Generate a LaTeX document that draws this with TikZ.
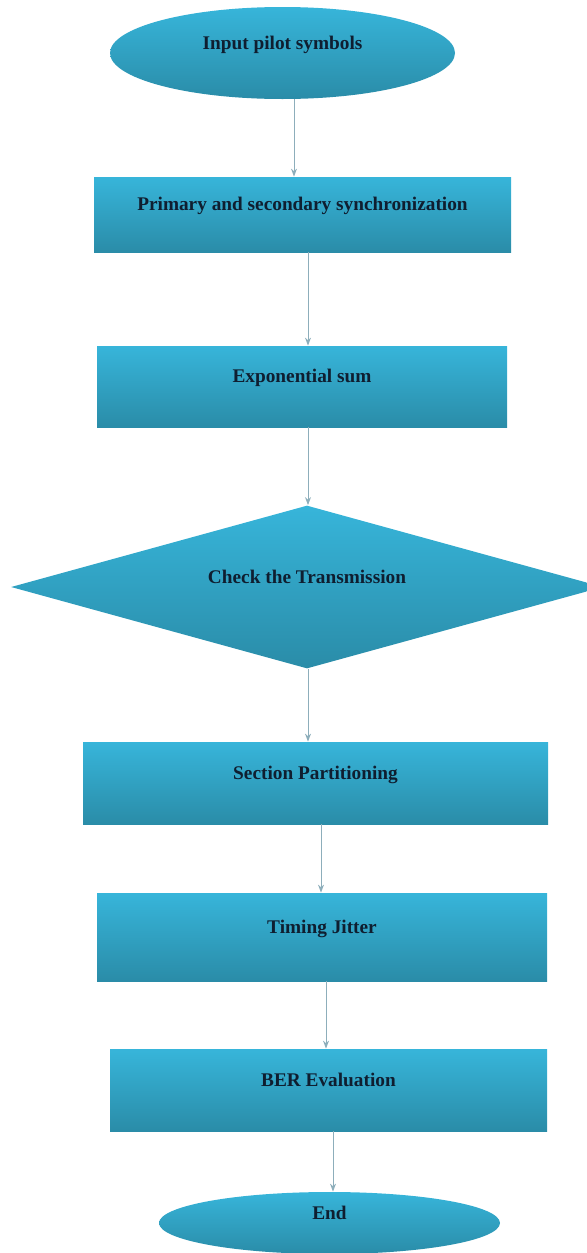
\documentclass[tikz,border=0pt]{standalone}
\usepackage{fontspec}
\setmainfont{Liberation Serif}
\usetikzlibrary{shapes.geometric,arrows.meta}
\definecolor{boxtop}{HTML}{37B5DA}
\definecolor{boxbottom}{HTML}{2A8CA8}
\definecolor{inktext}{HTML}{0F1E30}
\definecolor{linkgray}{HTML}{8DAEBB}
\begin{document}
\begin{tikzpicture}[x=0.5pt,y=-0.5pt,
  fillbox/.style={top color=boxtop,bottom color=boxbottom,draw=none,inner sep=0pt,text=inktext,
    font=\fontsize{9.65}{11}\selectfont\bfseries,text height=7pt,text depth=11pt},
  procbox/.style={fillbox,rectangle},
  termbox/.style={fillbox,ellipse},
  testbox/.style={fillbox,diamond,aspect=3.6},
  link/.style={draw=linkgray,line width=0.5pt,-{Stealth[length=4pt,width=3pt]}}]
\useasboundingbox (0,0) rectangle (587,1253);
\node[termbox,minimum width=172.5pt,minimum height=46pt] (start) at (282.5,53) {Input pilot symbols};
\node[procbox,minimum width=208.5pt,minimum height=37.5pt] (sync) at (302.5,214.5) {Primary and secondary synchronization};
\node[procbox,minimum width=205pt,minimum height=40.5pt] (expsum) at (302,386.5) {Exponential sum};
\node[testbox,minimum width=296pt,minimum height=81.5pt] (check) at (307,587) {Check the Transmission};
\node[procbox,minimum width=232.5pt,minimum height=41pt] (partition) at (315.5,783) {Section Partitioning};
\node[procbox,minimum width=225pt,minimum height=44pt] (jitter) at (322,937) {Timing Jitter};
\node[procbox,minimum width=218.5pt,minimum height=41pt] (ber) at (328.5,1090) {BER Evaluation};
\node[termbox,minimum width=170.5pt,minimum height=31pt] (finish) at (329.5,1223) {End};
% arrows between the steps
\foreach \a/\b/\x in {start/sync/294,sync/expsum/308,expsum/check/308,check/partition/308,
  partition/jitter/321,jitter/ber/326,ber/finish/333}
  \draw[link] (\a.south -| \x,0) -- (\b.north -| \x,0);
\end{tikzpicture}
\end{document}
